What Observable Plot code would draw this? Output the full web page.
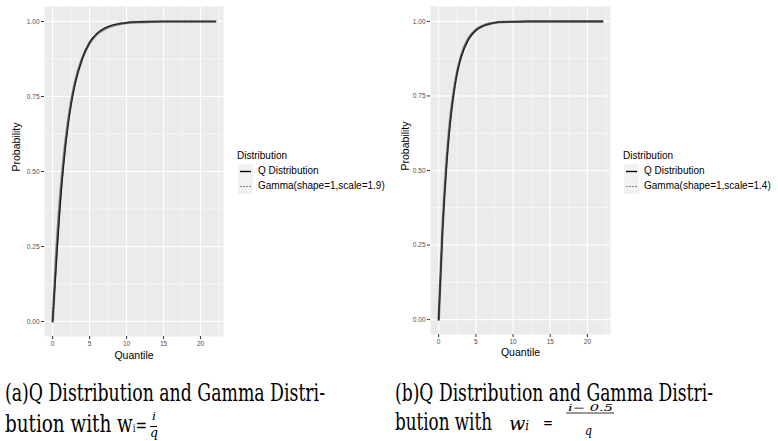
<!DOCTYPE html>
<html>
<head>
<meta charset="utf-8">
<script src="https://cdn.jsdelivr.net/npm/d3@7"></script>
<script src="https://cdn.jsdelivr.net/npm/@observablehq/plot@0.6"></script>
<style>
  body { margin: 0; background: #fff; }
  #wrap { position: relative; width: 778px; height: 441px; overflow: hidden; font-family: "Liberation Sans", Arial, sans-serif; }
  .panel { position: absolute; top: 0; }
  .legend { position: absolute; font-family: "Liberation Sans", Arial, sans-serif; font-size: 10px; color: #000; }
  .legend .title { position: absolute; left: 0; top: 0; white-space: nowrap; }
  .legend .key { position: absolute; left: 1px; width: 15px; height: 15px; background: #F2F2F2; }
  .legend .lab { position: absolute; left: 21px; white-space: nowrap; }
  #cap { position: absolute; left: 0; top: 0; }
</style>
</head>
<body>
<div id="wrap"></div>
<script>
// ---- data ----
const quantiles = [0, 0.5, 1, 1.5, 2, 2.5, 3, 4, 5, 6, 7, 8, 10, 12, 15, 18, 22];
const qDistA   = [0, 0.20, 0.385, 0.53, 0.64, 0.725, 0.79, 0.875, 0.93, 0.96, 0.977, 0.987, 0.996, 0.999, 1, 1, 1];
const gammaA   = [0, 0.23, 0.41, 0.546, 0.651, 0.732, 0.794, 0.878, 0.928, 0.958, 0.975, 0.985, 0.995, 0.998, 1, 1, 1];
const qDistB   = [0, 0.29, 0.50, 0.65, 0.755, 0.83, 0.88, 0.94, 0.97, 0.985, 0.993, 0.997, 0.999, 1, 1, 1, 1];
const gammaB   = [0, 0.30, 0.51, 0.66, 0.76, 0.833, 0.883, 0.943, 0.972, 0.986, 0.993, 0.997, 0.999, 1, 1, 1, 1];
const seriesNames = ["Q Distribution", "Gamma(shape=1,scale=1.9)", "Gamma(shape=1,scale=1.4)"];
const xTicks = [0, 5, 10, 15, 20];
const xMinor = [2.5, 7.5, 12.5, 17.5, 22.5];
const yTicks = [0, 0.25, 0.5, 0.75, 1];
const yMinor = [0.125, 0.375, 0.625, 0.875];
const legendTitle = "Distribution";
const xLabel = "Quantile";
const yLabel = "Probability";

const wrap = document.getElementById("wrap");

function panel(q, g, opts) {
  const qd = quantiles.map((x, i) => ({x, y: q[i]}));
  const gd = quantiles.map((x, i) => ({x, y: g[i]}));
  return Plot.plot({
    width: opts.width, height: 370,
    marginLeft: opts.ml, marginRight: opts.width - opts.pr, marginTop: 6, marginBottom: 370 - opts.pb,
    style: {background: "transparent", fontFamily: "Liberation Sans, Arial, sans-serif"},
    x: {domain: [-1.1, 23.1]},
    y: {domain: [-0.05, 1.05]},
    marks: [
      Plot.frame({fill: "#EBEBEB", stroke: null}),
      Plot.ruleX(xMinor, {stroke: "#fff", strokeWidth: 0.55}),
      Plot.ruleY(yMinor, {stroke: "#fff", strokeWidth: 0.55}),
      Plot.ruleX(xTicks, {stroke: "#fff", strokeWidth: 1.1}),
      Plot.ruleY(yTicks, {stroke: "#fff", strokeWidth: 1.1}),
      Plot.line(gd, {x: "x", y: "y", stroke: "#8a8a8a", strokeWidth: 2.6, curve: "monotone-x"}),
      Plot.line(qd, {x: "x", y: "y", stroke: "#111", strokeWidth: 1.5, curve: "monotone-x"}),
      Plot.line(gd, {x: "x", y: "y", stroke: "#555", strokeWidth: 0.8, strokeDasharray: "2,1.5", curve: "monotone-x"}),
      Plot.axisX({ticks: xTicks, tickSize: 3, tickPadding: 2, fontSize: 6.5, stroke: "#333", fill: "#4D4D4D", label: null}),
      Plot.axisY({ticks: yTicks, tickSize: 3, tickPadding: 2, fontSize: 6.5, stroke: "#333", fill: "#4D4D4D", tickFormat: d3.format(".2f"), label: null}),
      Plot.text([xLabel], {text: d => d, frameAnchor: "bottom", dy: opts.xlabDy, fontSize: 10.5, fill: "#000"}),
      Plot.text([yLabel], {text: d => d, frameAnchor: "left", dx: -opts.ylabDx, rotate: -90, fontSize: 10.5, fill: "#000"})
    ]
  });
}

function legend(left, top, gammaName) {
  const d = document.createElement("div");
  d.className = "legend";
  d.style.left = left + "px";
  d.style.top = top + "px";
  d.innerHTML = `
    <div class="title">${legendTitle}</div>
    <div class="key" style="top:14px"><svg width="15" height="15"><line x1="2" x2="13" y1="7.5" y2="7.5" stroke="#000" stroke-width="1.4"/></svg></div>
    <div class="key" style="top:29px"><svg width="15" height="15"><line x1="2" x2="13" y1="7.5" y2="7.5" stroke="#777" stroke-width="0.9" stroke-dasharray="2,1"/></svg></div>
    <div class="lab" style="top:15px">${seriesNames[0]}</div>
    <div class="lab" style="top:30px">${gammaName}</div>`;
  return d;
}

const pA = panel(qDistA, gammaA, {width: 390, ml: 44, pr: 223, pb: 336, xlabDy: 22, ylabDx: 28});
pA.classList.add("panel"); pA.style.left = "0px";
wrap.appendChild(pA);
const pB = panel(qDistB, gammaB, {width: 388, ml: 40, pr: 220, pb: 334, xlabDy: 21, ylabDx: 25});
pB.classList.add("panel"); pB.style.left = "390px";
wrap.appendChild(pB);

wrap.appendChild(legend(237, 150, seriesNames[1]));
wrap.appendChild(legend(623, 150, seriesNames[2]));

// ---- captions ----
const svg = d3.select(wrap).append("svg").attr("id", "cap").attr("width", 778).attr("height", 441)
  .style("font-family", "DejaVu Serif, Liberation Serif, serif");
function t(x, y, s, size, len, italic) {
  const e = svg.append("text").attr("x", x).attr("y", y).attr("font-size", size).text(s);
  if (len) e.attr("textLength", len).attr("lengthAdjust", "spacingAndGlyphs");
  if (italic) e.attr("font-style", "italic");
  return e;
}
// (a)
t(5, 401, "(a)Q Distribution and Gamma Distri-", 24, 320);
const a2 = svg.append("text").attr("x", 5).attr("y", 432).attr("font-size", 24)
  .attr("textLength", 142).attr("lengthAdjust", "spacingAndGlyphs");
a2.append("tspan").text("bution with w");
a2.append("tspan").attr("font-size", 11).text("i");
a2.append("tspan").attr("font-size", 18).text("=");
t(152, 420, "i", 11, 4, true);
svg.append("line").attr("x1", 150).attr("x2", 157).attr("y1", 426.5).attr("y2", 426.5).attr("stroke", "#000").attr("stroke-width", 1);
t(150, 437, "q", 13, 8, true);
// (b)
t(395, 401, "(b)Q Distribution and Gamma Distri-", 24, 318);
t(395, 430, "bution with", 24, 97);
const b2 = svg.append("text").attr("x", 509).attr("y", 430).attr("font-size", 19).attr("font-style", "italic");
b2.append("tspan").text("w");
b2.append("tspan").attr("font-size", 12).text("i");
t(543, 428, "=", 17, 10);
t(568, 411, "i− 0.5", 9.5, 45, true);
svg.append("line").attr("x1", 566).attr("x2", 614).attr("y1", 413).attr("y2", 413).attr("stroke", "#000").attr("stroke-width", 0.8);
t(585, 435, "q", 13, 7, true);
</script>
</body>
</html>
